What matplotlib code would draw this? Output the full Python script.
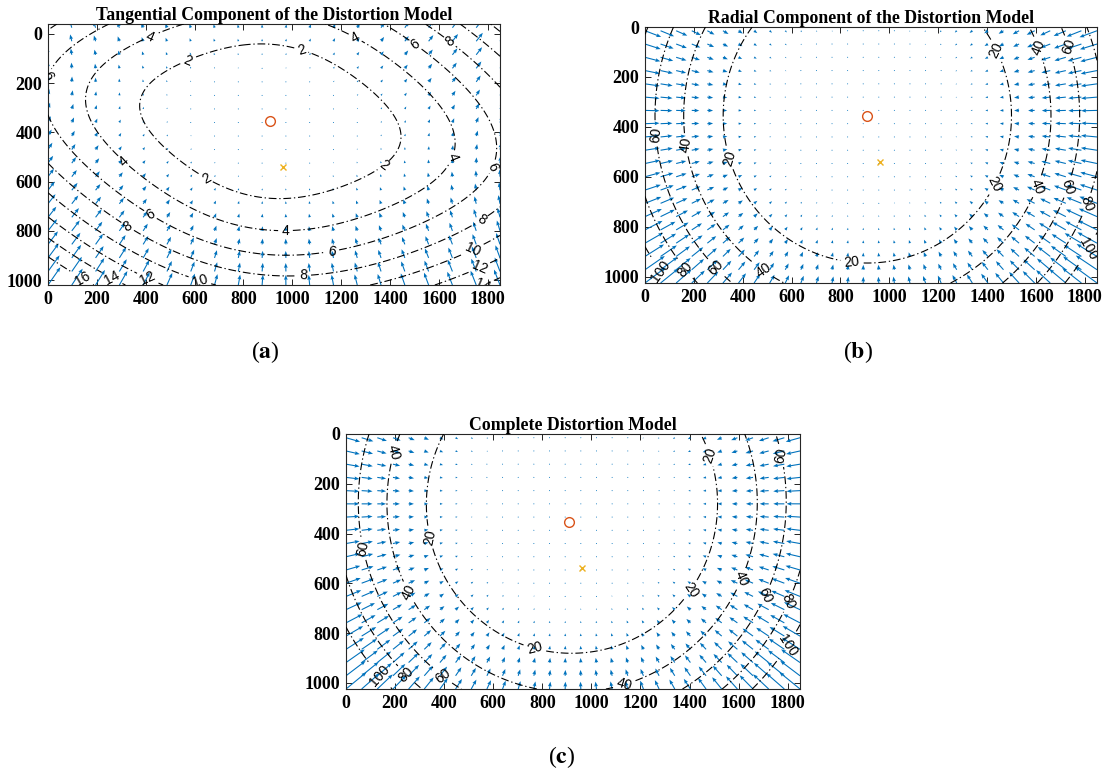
import numpy as np
import matplotlib
matplotlib.use('Agg')
import matplotlib.pyplot as plt

# camera / distortion values (pixel units)
PRINCIPAL_POINT = [910, 355]
IMAGE_CENTER = [960, 540]
RADIAL_K = [-1.0246e-7, 1.462e-14]     # k1, k2 scaled to pixels
TANGENTIAL_P = [-6.8e-6, 1.0e-6]       # p1, p2 scaled to pixels

X_RANGE = [0, 1850]
Y_RANGE_A = [-40, 1020]
Y_RANGE_BC = [0, 1025]

TAN_LEVELS = [2, 4, 6, 8, 10, 12, 14, 16]
RAD_LEVELS = [20, 40, 60, 80, 100]

TAN_LABEL_POS = [(37, 198), (427, 33), (578, 130), (1034, 75), (1250, 29),
                 (1500, 49), (1644, 33), (300, 527), (646, 590), (1364, 522),
                 (1636, 494), (1791, 527), (415, 741), (321, 790), (972, 795),
                 (1160, 873), (1046, 976), (1758, 729), (1725, 845), (1750, 914),
                 (1758, 989), (138, 1001), (260, 995), (407, 995), (619, 1009)]
RAD_LABEL_POS = [(1444, 89), (1624, 77), (1738, 77), (49, 431), (172, 471),
                 (348, 524), (1452, 640), (1624, 645), (1750, 645), (1820, 713),
                 (1812, 887), (847, 943), (483, 975), (294, 963), (172, 963),
                 (70, 975)]
ALL_LABEL_POS = [(207, 77), (1481, 85), (1779, 85), (69, 460), (342, 415),
                 (252, 637), (1420, 637), (1624, 588), (1726, 657), (1815, 677),
                 (1815, 858), (769, 862), (395, 971), (248, 963), (138, 971),
                 (1136, 1012)]

TITLES = ['Tangential Component of the Distortion Model',
          'Radial Component of the Distortion Model',
          'Complete Distortion Model']

plt.rcParams['mathtext.fontset'] = 'stix'
SERIF = 'Liberation Serif'
BLUE = '#0072BD'


def radial(X, Y):
    dx = X - PRINCIPAL_POINT[0]
    dy = Y - PRINCIPAL_POINT[1]
    r2 = dx ** 2 + dy ** 2
    f = RADIAL_K[0] * r2 + RADIAL_K[1] * r2 ** 2
    return dx * f, dy * f


def tangential(X, Y):
    dx = X - PRINCIPAL_POINT[0]
    dy = Y - PRINCIPAL_POINT[1]
    r2 = dx ** 2 + dy ** 2
    p1, p2 = TANGENTIAL_P
    u = 2 * p1 * dx * dy + p2 * (r2 + 2 * dx ** 2)
    v = p1 * (r2 + 2 * dy ** 2) + 2 * p2 * dx * dy
    return u, v


def complete(X, Y):
    u1, v1 = radial(X, Y)
    u2, v2 = tangential(X, Y)
    return u1 + u2, v1 + v2


def panel(rect, model, ylim, nx, ny, qscale, levels, label_pos, title):
    ax = fig.add_axes(rect)
    # arrows
    qx, qy = np.meshgrid(np.linspace(X_RANGE[0], X_RANGE[1], nx),
                         np.linspace(ylim[0] + 15, ylim[1], ny))
    u, v = model(qx, qy)
    ax.quiver(qx, qy, u, v, color=BLUE, angles='xy', scale_units='xy',
              scale=qscale, width=0.0024, headwidth=3.5, headlength=4.5,
              headaxislength=4, zorder=2)
    # contours of the displacement magnitude
    fx, fy = np.meshgrid(np.linspace(X_RANGE[0], X_RANGE[1], 400),
                         np.linspace(ylim[0], ylim[1], 240))
    fu, fv = model(fx, fy)
    cs = ax.contour(fx, fy, np.hypot(fu, fv), levels=levels, colors='k',
                    linewidths=0.8, linestyles=[(0, (7, 2.5, 1.2, 2.5))], zorder=3)
    ax.clabel(cs, fmt='%d', fontsize=10, manual=label_pos, inline=True,
              inline_spacing=3)
    for t in cs.labelTexts:
        t.set_family('Liberation Sans')
    ax.plot(PRINCIPAL_POINT[0], PRINCIPAL_POINT[1], 'o', mfc='none',
            mec='#D95319', ms=7, mew=1.0, zorder=4)
    ax.plot(IMAGE_CENTER[0], IMAGE_CENTER[1], 'x', color='#EDB120',
            ms=5, mew=1.0, zorder=4)
    ax.set_xlim(X_RANGE)
    ax.set_ylim(ylim[1], ylim[0])
    ax.set_xticks(range(0, 1801, 200))
    ax.set_yticks(range(0, 1001, 200))
    ax.tick_params(direction='in', top=True, right=True, length=4, width=0.6,
                   labelsize=13, pad=4)
    for lab in ax.get_xticklabels() + ax.get_yticklabels():
        lab.set_family(SERIF)
        lab.set_fontweight('bold')
    for s in ax.spines.values():
        s.set_linewidth(0.8)
        s.set_color('#262626')
    ax.set_title(title, family=SERIF, fontweight='bold', fontsize=12.8, pad=3)
    return ax


W, H = 1115, 774
fig = plt.figure(figsize=(W / 100, H / 100), dpi=100)


def rect(x0, x1, y0, y1):
    return [x0 / W, 1 - y1 / H, (x1 - x0) / W, (y1 - y0) / H]


panel(rect(48, 500, 24, 285), tangential, Y_RANGE_A, 20, 20, 0.22,
      TAN_LEVELS, TAN_LABEL_POS, TITLES[0])
panel(rect(645, 1097, 27, 283), radial, Y_RANGE_BC, 30, 20, 1.15,
      RAD_LEVELS, RAD_LABEL_POS, TITLES[1])
panel(rect(346, 800, 434, 689), complete, Y_RANGE_BC, 30, 20, 1.3,
      RAD_LEVELS, ALL_LABEL_POS, TITLES[2])

for x, y, letter in [(265, 352, 'a'), (858, 352, 'b'), (562, 757, 'c')]:
    fig.text(x / W, 1 - y / H, '($\\mathbf{%s}$)' % letter, family=SERIF,
             fontsize=17, ha='center', va='center')

fig.savefig('out.png', dpi=100)
